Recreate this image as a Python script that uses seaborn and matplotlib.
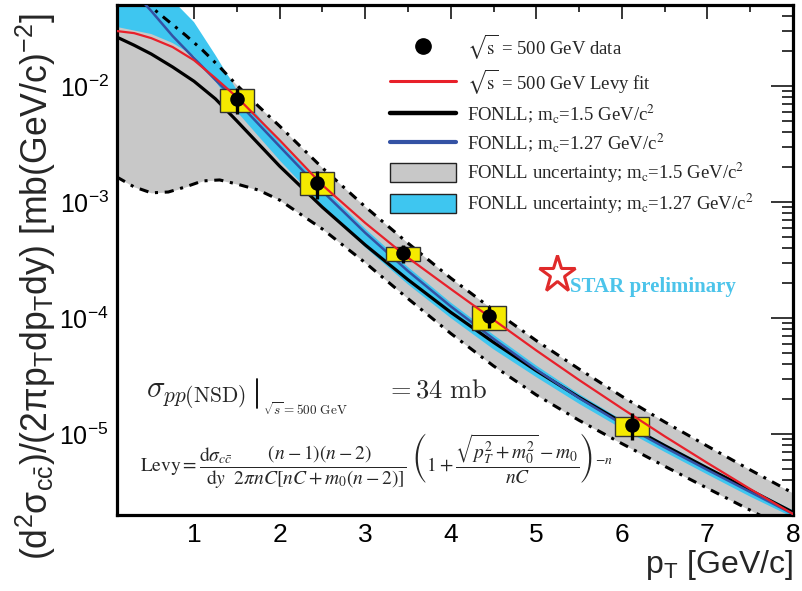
import numpy as np
import matplotlib
matplotlib.use("Agg")
import matplotlib.pyplot as plt
import seaborn as sns
from matplotlib.patches import Rectangle, Patch
from matplotlib.lines import Line2D
from matplotlib.ticker import LogLocator, MultipleLocator, NullFormatter, FixedLocator

# ---------------- data ----------------
pt_data = [1.50, 2.44, 3.44, 4.45, 6.12]
xsec_data = [7.7e-3, 1.46e-3, 3.6e-4, 1.04e-4, 1.2e-5]
stat_err = [2.0e-3, 0.40e-3, 0.64e-4, 0.22e-4, 0.32e-5]
sys_lo = [5.97e-3, 1.15e-3, 3.1e-4, 7.9e-5, 9.6e-6]
sys_hi = [9.4e-3, 1.82e-3, 4.09e-4, 1.27e-4, 1.4e-5]

theory_pt = [0.1, 0.3, 0.5, 0.75, 1.0, 1.25, 1.5, 2.0, 2.5, 3.0, 3.5, 4.0, 4.5, 5.0, 5.5,
             6.0, 6.5, 7.0, 7.5, 8.0]
levy_fit = [2.98e-2, 2.86e-2, 2.59e-2, 2.17e-2, 1.67e-2, 1.17e-2, 8.04e-3, 3.42e-3, 1.40e-3,
            6.61e-4, 3.31e-4, 1.78e-4, 9.66e-5, 5.25e-5, 2.92e-5, 1.66e-5, 9.55e-6, 5.62e-6,
            3.35e-6, 2.04e-6]
fonll_15 = [2.64e-2, 2.25e-2, 1.89e-2, 1.46e-2, 1.10e-2, 7.76e-3, 5.01e-3, 2.04e-3, 9.02e-4,
            4.27e-4, 2.14e-4, 1.12e-4, 6.17e-5, 3.51e-5, 2.07e-5, 1.26e-5, 7.94e-6, 5.07e-6,
            3.27e-6, 2.11e-6]
fonll_127 = [1.0e-1, 6.46e-2, 4.44e-2, 2.70e-2, 1.74e-2, 1.13e-2, 7.41e-3, 3.02e-3, 1.24e-3,
             5.43e-4, 2.54e-4, 1.26e-4, 6.61e-5, 3.59e-5, 2.04e-5, 1.22e-5, 7.67e-6, 4.90e-6,
             3.16e-6, 2.04e-6]

band15_pt = [0.1, 0.3, 0.5, 0.7, 0.9, 1.1, 1.3, 1.5, 1.75, 2.0, 2.5, 3.0, 3.5, 4.0, 4.5,
             5.0, 5.5, 6.0, 6.5, 7.0, 7.5, 8.0]
band15_hi = [0.110, 7.13e-2, 4.80e-2, 3.63e-2, 2.75e-2, 2.04e-2, 1.46e-2, 1.02e-2, 6.73e-3,
             4.52e-3, 1.97e-3, 9.12e-4, 4.42e-4, 2.21e-4, 1.17e-4, 6.38e-5, 3.63e-5, 2.11e-5,
             1.27e-5, 7.85e-6, 4.90e-6, 3.09e-6]
band15_lo = [1.64e-3, 1.35e-3, 1.20e-3, 1.22e-3, 1.35e-3, 1.52e-3, 1.55e-3, 1.43e-3, 1.27e-3,
             1.04e-3, 5.85e-4, 3.00e-4, 1.47e-4, 7.36e-5, 3.86e-5, 2.17e-5, 1.31e-5, 8.26e-6,
             5.27e-6, 3.40e-6, 2.20e-6, 1.42e-6]

band127_pt = [0.1, 0.5, 0.75, 1.0, 1.25, 1.5, 2.0, 2.5, 3.0, 3.5, 4.0, 4.5, 5.0, 5.5, 6.0,
              6.5, 7.0, 7.5, 8.0]
band127_hi = [0.302, 0.120, 5.50e-2, 3.56e-2, 1.85e-2, 9.25e-3, 3.29e-3, 1.35e-3, 5.89e-4,
              2.75e-4, 1.36e-4, 7.16e-5, 3.89e-5, 2.21e-5, 1.32e-5, 8.22e-6, 5.25e-6, 3.39e-6,
              2.19e-6]
band127_lo = [3.23e-2, 2.81e-2, 2.35e-2, 1.82e-2, 1.10e-2, 6.03e-3, 2.29e-3, 9.33e-4, 4.07e-4,
              1.95e-4, 1.00e-4, 5.37e-5, 3.09e-5, 1.82e-5, 1.11e-5, 7.00e-6, 4.47e-6, 2.88e-6,
              1.91e-6]

legend_labels = [
    r"$\sqrt{\mathrm{s}}$ = 500 GeV data",
    r"$\sqrt{\mathrm{s}}$ = 500 GeV Levy fit",
    r"FONLL; m$_{\mathrm{c}}$=1.5 GeV/c$^{2}$",
    r"FONLL; m$_{\mathrm{c}}$=1.27 GeV/c$^{2}$",
    r"FONLL uncertainty; m$_{\mathrm{c}}$=1.5 GeV/c$^{2}$",
    r"FONLL uncertainty; m$_{\mathrm{c}}$=1.27 GeV/c$^{2}$",
]
x_ticks = [1, 2, 3, 4, 5, 6, 7, 8]

# ---------------- style ----------------
sns.set_style("white")
plt.rcParams["font.family"] = ["Liberation Sans", "DejaVu Sans"]
plt.rcParams["mathtext.fontset"] = "custom"
plt.rcParams["mathtext.rm"] = "Liberation Sans"
plt.rcParams["mathtext.it"] = "Liberation Sans:italic"
plt.rcParams["mathtext.bf"] = "Liberation Sans:bold"
plt.rcParams["mathtext.sf"] = "Liberation Sans"

RED = "#e8202a"
BLUE = "#3452a4"
CYAN = "#3ec6f0"
GRAY = "#c8c8c8"
YELLOW = "#f5ea00"

W, H = 803, 591
fig = plt.figure(figsize=(W / 100, H / 100), dpi=100)
ax = fig.add_axes([117 / W, 1 - 515 / H, (793 - 117) / W, (515 - 5) / H])

def fx(px):
    return px / W

def fy(py):
    return 1 - py / H

# bands
ax.fill_between(band15_pt, band15_lo, band15_hi, color=GRAY, lw=0, zorder=1)
ax.fill_between(band127_pt, band127_lo, band127_hi, color=CYAN, lw=0, zorder=2)
dashdot = (0, (3.0, 2.2, 1.0, 2.2))
ax.plot(band15_pt, band15_hi, color="black", lw=2.2, ls=dashdot, zorder=3)
ax.plot(band15_pt, band15_lo, color="black", lw=2.2, ls=dashdot, zorder=3)

# theory lines
sns.lineplot(x=theory_pt, y=fonll_15, ax=ax, color="black", linewidth=2.3, zorder=4, errorbar=None)
sns.lineplot(x=theory_pt, y=fonll_127, ax=ax, color=BLUE, linewidth=1.8, zorder=4, errorbar=None)

# systematic boxes
for x, lo, hi in zip(pt_data, sys_lo, sys_hi):
    ax.add_patch(Rectangle((x - 0.2, lo), 0.4, hi - lo, facecolor=YELLOW,
                           edgecolor="#333333", lw=1.0, zorder=5))

sns.lineplot(x=theory_pt, y=levy_fit, ax=ax, color=RED, linewidth=1.6, zorder=6, errorbar=None)

ax.errorbar(pt_data, xsec_data, yerr=stat_err, fmt="none", ecolor="black",
            elinewidth=2.4, capsize=0, zorder=7)
sns.scatterplot(x=pt_data, y=xsec_data, ax=ax, color="black", s=110, edgecolor="black",
                linewidth=0, zorder=8)

# axes
ax.set_yscale("log")
ax.set_xlim(0.1, 8.0)
ax.set_ylim(2e-6, 5e-2)
ax.xaxis.set_major_locator(FixedLocator(x_ticks))
ax.xaxis.set_minor_locator(MultipleLocator(0.5))
ax.yaxis.set_major_locator(LogLocator(base=10))
ax.yaxis.set_minor_locator(LogLocator(base=10, subs=np.arange(2, 10)))
ax.yaxis.set_minor_formatter(NullFormatter())
for s in ax.spines.values():
    s.set_linewidth(2.3)
    s.set_color("black")
    s.set_visible(True)
ax.tick_params(axis="both", which="both", direction="in", top=True, right=True,
               width=1.1, colors="black")
ax.tick_params(axis="y", which="major", length=16, labelsize=18, pad=6)
ax.tick_params(axis="y", which="minor", length=8)
ax.tick_params(axis="x", which="major", length=10, labelsize=19, pad=6)
ax.tick_params(axis="x", which="minor", length=5)
ax.set_xlabel("")
ax.set_ylabel("")

# axis titles
fig.text(fx(793), fy(573), r"p$_{\mathrm{T}}$ [GeV/c]", ha="right", va="baseline", fontsize=23)
fig.text(fx(36), fy(14),
         r"(d$^{2}$σ$_{\mathrm{c\bar{c}}}$)/(2πp$_{\mathrm{T}}$dp$_{\mathrm{T}}$dy) [mb(GeV/c)$^{-2}$]",
         rotation=90, ha="center", va="top", fontsize=25.7)

# legend
handles = [
    Line2D([], [], ls="none", marker="o", color="black", ms=11),
    Line2D([], [], color=RED, lw=2.2),
    Line2D([], [], color="black", lw=3.2),
    Line2D([], [], color=BLUE, lw=3.0),
    Patch(facecolor=GRAY, edgecolor="#222222", lw=1.0),
    Patch(facecolor=CYAN, edgecolor="#222222", lw=1.0),
]
leg = ax.legend(handles, legend_labels, loc="upper left", bbox_to_anchor=(0.404, 0.947),
                frameon=False, handlelength=3.5, handleheight=1.2, labelspacing=0.34,
                handletextpad=0.6, borderpad=0, borderaxespad=0,
                prop={"family": "Liberation Serif", "size": 13.5})
for t in leg.get_texts():
    t.set_math_fontfamily("stix")

# sigma annotation (Computer Modern style)
fig.text(fx(146), fy(397), r"$\sigma_{pp(\mathrm{NSD})}$", ha="left", va="baseline",
         fontsize=22, math_fontfamily="cm")
fig.add_artist(Line2D([fx(257), fx(257)], [fy(379), fy(408)], color="black", lw=1.3))
fig.text(fx(263), fy(415), r"$\sqrt{s}{=}500\ \mathrm{GeV}$", ha="left", va="baseline",
         fontsize=9.5, math_fontfamily="cm")
fig.text(fx(386), fy(397), r"$=34\ \mathrm{mb}$", ha="left", va="baseline",
         fontsize=19, math_fontfamily="cm")

fig.text(fx(140), fy(461),
         r"$\mathrm{Levy} = \dfrac{\mathrm{d}\sigma_{c\bar{c}}}{\mathrm{d}y}\dfrac{(n-1)(n-2)}{2\pi nC[nC+m_0(n-2)]}"
         r"\ \left(1+\dfrac{\sqrt{p_T^2+m_0^2}-m_0}{nC}\right)^{-n}$",
         ha="left", va="center", fontsize=14, math_fontfamily="stix")

# STAR preliminary
fig.add_artist(Line2D([fx(557)], [fy(274)], marker="*", ms=28, mfc="none", mec="#e02a2a",
                      mew=2.2, ls="none"))
fig.text(fx(570), fy(292), "STAR preliminary", ha="left", va="baseline", fontsize=15,
         fontweight="bold", family="Liberation Serif", color="#4cc4ea")

fig.savefig("out.png", dpi=100)
